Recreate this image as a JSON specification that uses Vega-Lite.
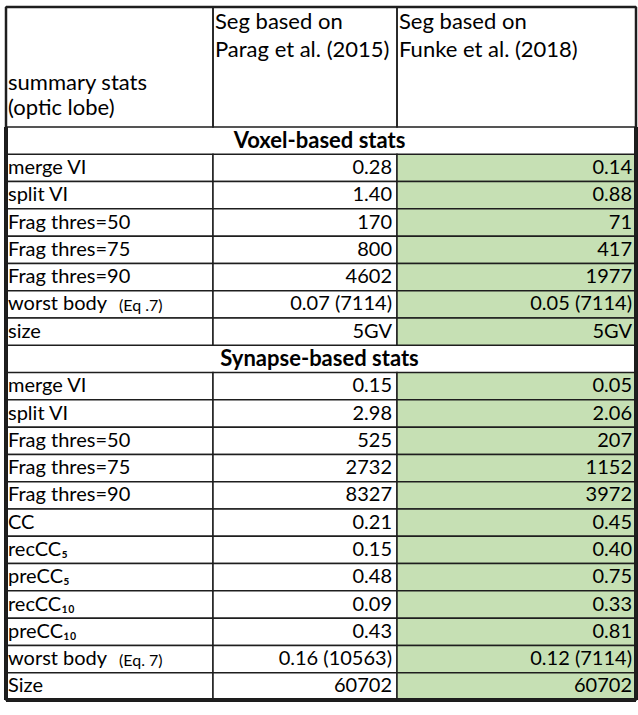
{
  "$schema": "https://vega.github.io/schema/vega-lite/v6.json",
  "padding": {"left": 4, "top": 5, "right": 4, "bottom": 17},
  "background": "white",
  "bounds": "flush",
  "spacing": 0,
  "columns": 3,
  "config": {
    "view": {"stroke": "#1e1e1e", "strokeWidth": 1.5},
    "text": {"font": "Lato", "fontSize": 20, "color": "#000000"}
  },
  "datasets": {
    "header": [
      {"stat": ["summary stats", "(optic lobe)"], "parag": ["Seg based on", "Parag et al. (2015)"], "funke": ["Seg based on", "Funke et al. (2018)"]}
    ],
    "table": [
      {"title": "Voxel-based stats", "stat": "", "note": "", "parag": "", "funke": ""},
      {"title": "", "stat": "merge VI", "note": "", "parag": "0.28", "funke": "0.14"},
      {"title": "", "stat": "split VI", "note": "", "parag": "1.40", "funke": "0.88"},
      {"title": "", "stat": "Frag thres=50", "note": "", "parag": "170", "funke": "71"},
      {"title": "", "stat": "Frag thres=75", "note": "", "parag": "800", "funke": "417"},
      {"title": "", "stat": "Frag thres=90", "note": "", "parag": "4602", "funke": "1977"},
      {"title": "", "stat": "worst body", "note": "(Eq .7)", "parag": "0.07 (7114)", "funke": "0.05 (7114)"},
      {"title": "", "stat": "size", "note": "", "parag": "5GV", "funke": "5GV"},
      {"title": "Synapse-based stats", "stat": "", "note": "", "parag": "", "funke": ""},
      {"title": "", "stat": "merge VI", "note": "", "parag": "0.15", "funke": "0.05"},
      {"title": "", "stat": "split VI", "note": "", "parag": "2.98", "funke": "2.06"},
      {"title": "", "stat": "Frag thres=50", "note": "", "parag": "525", "funke": "207"},
      {"title": "", "stat": "Frag thres=75", "note": "", "parag": "2732", "funke": "1152"},
      {"title": "", "stat": "Frag thres=90", "note": "", "parag": "8327", "funke": "3972"},
      {"title": "", "stat": "CC", "note": "", "parag": "0.21", "funke": "0.45"},
      {"title": "", "stat": "recCC₅", "note": "", "parag": "0.15", "funke": "0.40"},
      {"title": "", "stat": "preCC₅", "note": "", "parag": "0.48", "funke": "0.75"},
      {"title": "", "stat": "recCC₁₀", "note": "", "parag": "0.09", "funke": "0.33"},
      {"title": "", "stat": "preCC₁₀", "note": "", "parag": "0.43", "funke": "0.81"},
      {"title": "", "stat": "worst body", "note": "(Eq. 7)", "parag": "0.16 (10563)", "funke": "0.12 (7114)"},
      {"title": "", "stat": "Size", "note": "", "parag": "60702", "funke": "60702"}
    ]
  },
  "concat": [
    {
      "width": 207, "height": 120,
      "data": {"name": "header"},
      "layer": [
        {"mark": {"type": "text", "align": "left", "baseline": "top", "dx": 2, "dy": 66, "lineHeight": 25, "fontSize": 22},
         "encoding": {
           "x": {"datum": 0, "type": "quantitative", "scale": {"domain": [0, 1]}, "axis": null},
           "y": {"datum": 1, "type": "quantitative", "scale": {"domain": [0, 1]}, "axis": null},
           "text": {"field": "stat", "type": "nominal"}}},
        {"mark": {"type": "rule", "color": "#1e1e1e", "strokeWidth": 2.5},
         "encoding": {"y": {"datum": 1, "type": "quantitative", "axis": null}}},
        {"mark": {"type": "rule", "color": "#1e1e1e", "strokeWidth": 2.5},
         "encoding": {"x": {"datum": 0, "type": "quantitative", "axis": null}}}
      ]
    },
    {
      "width": 184, "height": 120,
      "data": {"name": "header"},
      "layer": [
        {"mark": {"type": "text", "align": "left", "baseline": "top", "dx": 2, "dy": 5, "lineHeight": 28, "fontSize": 22},
         "encoding": {
           "x": {"datum": 0, "type": "quantitative", "scale": {"domain": [0, 1]}, "axis": null},
           "y": {"datum": 1, "type": "quantitative", "scale": {"domain": [0, 1]}, "axis": null},
           "text": {"field": "parag", "type": "nominal"}}},
        {"mark": {"type": "rule", "color": "#1e1e1e", "strokeWidth": 2.5},
         "encoding": {"y": {"datum": 1, "type": "quantitative", "axis": null}}}
      ]
    },
    {
      "width": 239, "height": 120,
      "data": {"name": "header"},
      "layer": [
        {"mark": {"type": "text", "align": "left", "baseline": "top", "dx": 2, "dy": 5, "lineHeight": 28, "fontSize": 22},
         "encoding": {
           "x": {"datum": 0, "type": "quantitative", "scale": {"domain": [0, 1]}, "axis": null},
           "y": {"datum": 1, "type": "quantitative", "scale": {"domain": [0, 1]}, "axis": null},
           "text": {"field": "funke", "type": "nominal"}}},
        {"mark": {"type": "rule", "color": "#1e1e1e", "strokeWidth": 2.5},
         "encoding": {"y": {"datum": 1, "type": "quantitative", "axis": null}}},
        {"mark": {"type": "rule", "color": "#1e1e1e", "strokeWidth": 2.5},
         "encoding": {"x": {"datum": 1, "type": "quantitative", "axis": null}}}
      ]
    },
    {
      "width": 207, "height": 573,
      "view": {"stroke": null},
      "data": {"name": "table"},
      "transform": [{"window": [{"op": "row_number", "as": "row"}]}],
      "layer": [
        {"transform": [{"filter": "datum.title == ''"}],
         "mark": {"type": "rect", "fill": "white", "stroke": "#1e1e1e", "strokeWidth": 1.5},
         "encoding": {"y": {"field": "row", "type": "ordinal", "axis": null, "scale": {"type": "band", "paddingInner": 0, "paddingOuter": 0}}}},
        {"mark": {"type": "text", "align": "left", "baseline": "middle", "dx": 2},
         "encoding": {
           "x": {"datum": 0, "type": "quantitative", "scale": {"domain": [0, 1]}, "axis": null},
           "y": {"field": "row", "type": "ordinal", "axis": null, "bandPosition": 0.5},
           "text": {"field": "stat", "type": "nominal"}}},
        {"mark": {"type": "text", "align": "left", "baseline": "middle", "dx": 113, "dy": 2, "fontSize": 16},
         "encoding": {
           "x": {"datum": 0, "type": "quantitative", "scale": {"domain": [0, 1]}, "axis": null},
           "y": {"field": "row", "type": "ordinal", "axis": null, "bandPosition": 0.5},
           "text": {"field": "note", "type": "nominal"}}},
        {"mark": {"type": "rule", "color": "#1e1e1e", "strokeWidth": 2.5},
         "encoding": {"x": {"datum": 0, "type": "quantitative", "axis": null}}},
        {"mark": {"type": "rule", "color": "#1e1e1e", "strokeWidth": 2.5},
         "encoding": {"y": {"datum": 21, "type": "ordinal", "axis": null, "bandPosition": 1}}}
      ]
    },
    {
      "width": 184, "height": 573,
      "view": {"stroke": null},
      "data": {"name": "table"},
      "transform": [{"window": [{"op": "row_number", "as": "row"}]}],
      "layer": [
        {"transform": [{"filter": "datum.title == ''"}],
         "mark": {"type": "rect", "fill": "white", "stroke": "#1e1e1e", "strokeWidth": 1.5},
         "encoding": {"y": {"field": "row", "type": "ordinal", "axis": null, "scale": {"type": "band", "paddingInner": 0, "paddingOuter": 0}}}},
        {"mark": {"type": "text", "align": "right", "baseline": "middle", "dx": -5},
         "encoding": {
           "x": {"datum": 1, "type": "quantitative", "scale": {"domain": [0, 1]}, "axis": null},
           "y": {"field": "row", "type": "ordinal", "axis": null, "bandPosition": 0.5},
           "text": {"field": "parag", "type": "nominal"}}},
        {"mark": {"type": "text", "align": "center", "baseline": "middle", "fontWeight": "bold", "fontSize": 22},
         "encoding": {
           "x": {"datum": 0.579, "type": "quantitative", "scale": {"domain": [0, 1]}, "axis": null},
           "y": {"field": "row", "type": "ordinal", "axis": null, "bandPosition": 0.5},
           "text": {"field": "title", "type": "nominal"}}},
        {"mark": {"type": "rule", "color": "#1e1e1e", "strokeWidth": 2.5},
         "encoding": {"y": {"datum": 21, "type": "ordinal", "axis": null, "bandPosition": 1}}}
      ]
    },
    {
      "width": 239, "height": 573,
      "view": {"stroke": null},
      "data": {"name": "table"},
      "transform": [{"window": [{"op": "row_number", "as": "row"}]}],
      "layer": [
        {"transform": [{"filter": "datum.title == ''"}],
         "mark": {"type": "rect", "fill": "#c6e0b4", "stroke": "#1e1e1e", "strokeWidth": 1.5},
         "encoding": {"y": {"field": "row", "type": "ordinal", "axis": null, "scale": {"type": "band", "paddingInner": 0, "paddingOuter": 0}}}},
        {"mark": {"type": "text", "align": "right", "baseline": "middle", "dx": -4},
         "encoding": {
           "x": {"datum": 1, "type": "quantitative", "scale": {"domain": [0, 1]}, "axis": null},
           "y": {"field": "row", "type": "ordinal", "axis": null, "bandPosition": 0.5},
           "text": {"field": "funke", "type": "nominal"}}},
        {"mark": {"type": "rule", "color": "#1e1e1e", "strokeWidth": 2.5},
         "encoding": {"x": {"datum": 1, "type": "quantitative", "axis": null}}},
        {"mark": {"type": "rule", "color": "#1e1e1e", "strokeWidth": 2.5},
         "encoding": {"y": {"datum": 21, "type": "ordinal", "axis": null, "bandPosition": 1}}}
      ]
    }
  ]
}
